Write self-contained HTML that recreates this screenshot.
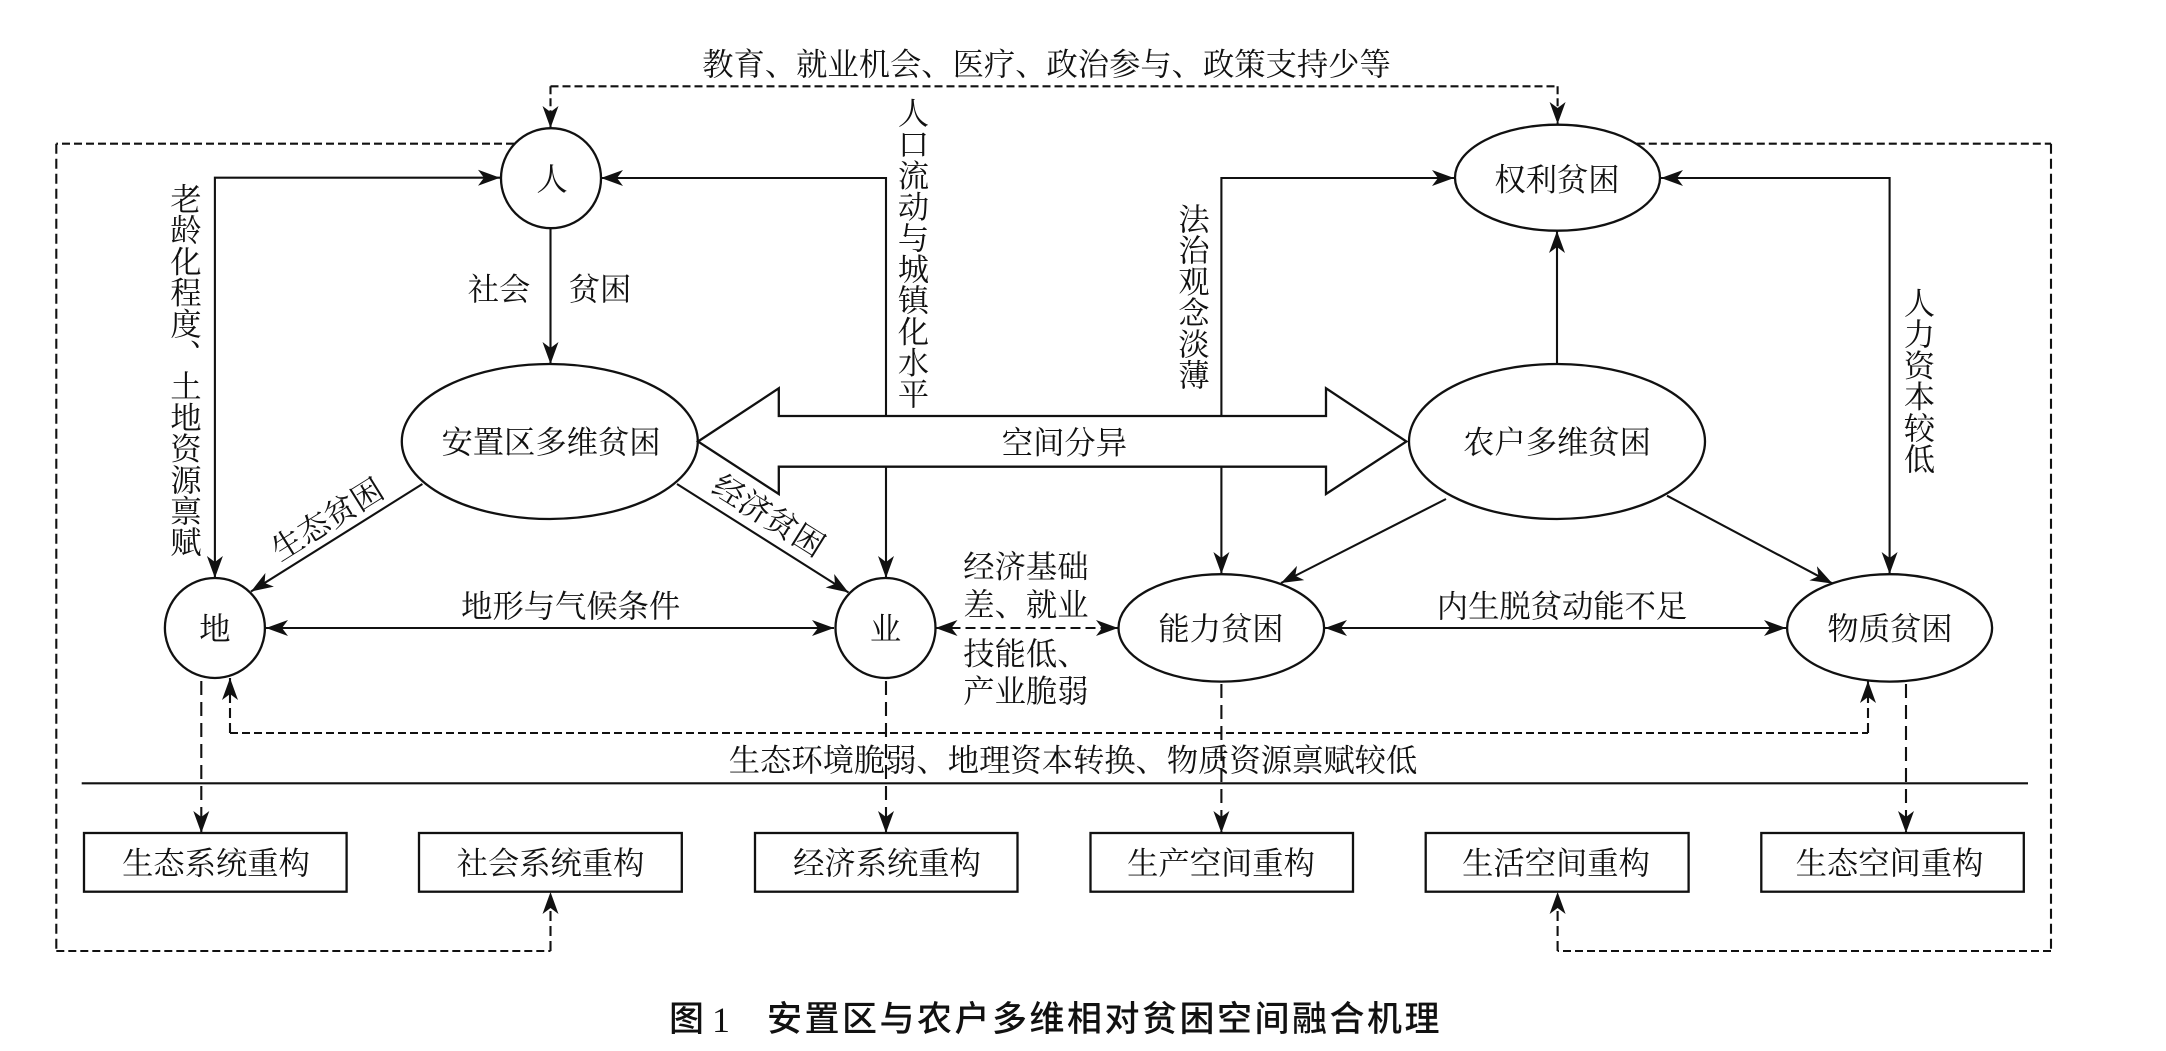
<!DOCTYPE html>
<html lang="zh"><head><meta charset="utf-8"><title>图1</title>
<style>
html,body{margin:0;padding:0;background:#fff}
body{width:2166px;height:1051px;overflow:hidden;position:relative}
svg{position:absolute;left:0;top:0}
text{font-family:"Liberation Serif","Noto Serif CJK SC",serif;font-size:31.3px;fill:#111;text-anchor:middle}
.v{position:absolute;width:31px;writing-mode:vertical-rl;text-orientation:upright;font-family:"Liberation Serif","Noto Serif CJK SC",serif;font-size:31.2px;line-height:31px;color:#111;white-space:nowrap}
</style></head><body>
<svg width="2166" height="1051" viewBox="0 0 2166 1051" xmlns="http://www.w3.org/2000/svg">
<defs>
<marker id="a" viewBox="-23 -9 24 18" refX="0" refY="0" markerWidth="24" markerHeight="18" markerUnits="userSpaceOnUse" orient="auto-start-reverse"><path d="M0,0 L-22,-8 L-16,0 L-22,8 Z" fill="#111"/></marker>
</defs>
<g fill="none" stroke="#111" stroke-width="2.1">
<path d="M214.9,578 V177.7 H500" marker-start="url(#a)" marker-end="url(#a)"/>
<path d="M886,416 V178 H601" marker-end="url(#a)"/>
<path d="M886,467 V578" marker-end="url(#a)"/>
<path d="M1221.4,416 V178 H1454" marker-end="url(#a)"/>
<path d="M1221.4,467 V574" marker-end="url(#a)"/>
<path d="M1889.6,574 V178 H1661" marker-end="url(#a)" marker-start="url(#a)"/>
<path d="M550.5,228 V364" marker-end="url(#a)"/>
<path d="M1557,364 V231" marker-end="url(#a)"/>
<path d="M422.4,484 L251,591.5" marker-end="url(#a)"/>
<path d="M677,484 L848.5,592.5" marker-end="url(#a)"/>
<path d="M1446,499 L1281,583" marker-end="url(#a)"/>
<path d="M1667,495.7 L1832.6,583.6" marker-end="url(#a)"/>
<path d="M266,628 H834" marker-start="url(#a)" marker-end="url(#a)"/>
<path d="M1325,628 H1786" marker-start="url(#a)" marker-end="url(#a)"/>
<path d="M81.7,783.3 H2028"/>
</g>
<g fill="none" stroke="#111" stroke-width="2.1">
<path d="M550.5,86.3 H1557.6" stroke-dasharray="8 4"/>
<path d="M550.5,86.3 V128" stroke-dasharray="8 4" marker-end="url(#a)"/>
<path d="M1557.6,86.3 V124" stroke-dasharray="8 4" marker-end="url(#a)"/>
<path d="M514,143.7 H56.3" stroke-dasharray="8 4"/>
<path d="M56.3,143.7 V951" stroke-dasharray="10 5"/>
<path d="M56.3,951 H550.5" stroke-dasharray="8 4"/>
<path d="M550.5,951 V892" stroke-dasharray="10 5" marker-end="url(#a)"/>
<path d="M1636.8,143.7 H2051" stroke-dasharray="8 4"/>
<path d="M2051,143.7 V951" stroke-dasharray="10 5"/>
<path d="M2051,951 H1557.6" stroke-dasharray="8 4"/>
<path d="M1557.6,951 V892" stroke-dasharray="10 5" marker-end="url(#a)"/>
<path d="M230,733 H1868" stroke-dasharray="8 4"/>
<path d="M230,733 V678" stroke-dasharray="10 5" marker-end="url(#a)"/>
<path d="M1868,733 V681" stroke-dasharray="10 5" marker-end="url(#a)"/>
<path d="M201.3,681 V833" stroke-dasharray="14 7" marker-end="url(#a)"/>
<path d="M886,681 V833" stroke-dasharray="14 7" marker-end="url(#a)"/>
<path d="M1221.4,684 V833" stroke-dasharray="14 7" marker-end="url(#a)"/>
<path d="M1906,684 V833" stroke-dasharray="14 7" marker-end="url(#a)"/>
<path d="M935.5,628 H1118" stroke-dasharray="10 5" marker-start="url(#a)" marker-end="url(#a)"/>
</g>
<g fill="#fff" stroke="#111" stroke-width="2.3">
<ellipse cx="551" cy="178.2" rx="50" ry="50"/>
<ellipse cx="1557.5" cy="177.7" rx="102.5" ry="53"/>
<ellipse cx="549.8" cy="441.5" rx="148" ry="77.5"/>
<ellipse cx="1557" cy="441.5" rx="148" ry="77.5"/>
<ellipse cx="214.9" cy="628" rx="50" ry="50"/>
<ellipse cx="885.5" cy="628" rx="50" ry="50"/>
<ellipse cx="1221.3" cy="627.9" rx="102.8" ry="53.7"/>
<ellipse cx="1889.6" cy="627.9" rx="102.5" ry="53.7"/>
<path d="M698,441.5 L778.8,388.3 V416 H1326 V388.3 L1406.4,441.5 L1326,494 V466.7 H778.8 V494 Z"/>
<rect x="84" y="833" width="262.6" height="58.7"/>
<rect x="419" y="833" width="262.8" height="58.7"/>
<rect x="755" y="833" width="262.5" height="58.7"/>
<rect x="1090.5" y="833" width="262.5" height="58.7"/>
<rect x="1425.7" y="833" width="262.9" height="58.7"/>
<rect x="1761.3" y="833" width="262.5" height="58.7"/>
</g>
<text x="1046.5" y="75">教育、就业机会、医疗、政治参与、政策支持少等</text>
<text x="552" y="190">人</text>
<text x="1557" y="190.5">权利贫困</text>
<text x="499" y="300">社会</text>
<text x="600" y="300">贫困</text>
<text x="551" y="453">安置区多维贫困</text>
<text x="1064.4" y="453.5">空间分异</text>
<text x="1557" y="453">农户多维贫困</text>
<text x="214.9" y="639.5">地</text>
<text x="885.5" y="639.5">业</text>
<text x="1221" y="639.5">能力贫困</text>
<text x="1890" y="639.5">物质贫困</text>
<text x="570.7" y="617">地形与气候条件</text>
<text x="1562" y="617">内生脱贫动能不足</text>
<text x="963.3" y="577.5" style="text-anchor:start">经济基础</text>
<text x="963.3" y="615.5" style="text-anchor:start">差、就业</text>
<text x="963.3" y="664.5" style="text-anchor:start">技能低、</text>
<text x="963.3" y="702" style="text-anchor:start">产业脆弱</text>
<text x="1073" y="771">生态环境脆弱、地理资本转换、物质资源禀赋较低</text>
<text x="216" y="874">生态系统重构</text>
<text x="550.5" y="874">社会系统重构</text>
<text x="887" y="874">经济系统重构</text>
<text x="1221" y="874">生产空间重构</text>
<text x="1556" y="874">生活空间重构</text>
<text x="1889.5" y="874">生态空间重构</text>
<text transform="translate(327,519) rotate(-32)" x="0" y="11.5">生态贫困</text>
<text transform="translate(769,515) rotate(32)" x="0" y="11.5">经济贫困</text>
<text x="669" y="1031" style="text-anchor:start;font-family:'Liberation Sans','Noto Sans CJK SC',sans-serif;font-size:35px;font-weight:500">图</text>
<text x="712" y="1032" style="text-anchor:start;font-size:36px;font-family:'Liberation Serif',serif">1</text>
<text x="767" y="1031" style="text-anchor:start;font-family:'Liberation Sans','Noto Sans CJK SC',sans-serif;font-size:35px;font-weight:500;letter-spacing:2.5px">安置区与农户多维相对贫困空间融合机理</text>
</svg>
<div class="v" style="left:167.5px;top:183px">老龄化程度、土地资源禀赋</div>
<div class="v" style="left:895px;top:97px">人口流动与城镇化水平</div>
<div class="v" style="left:1175.5px;top:202.5px">法治观念淡薄</div>
<div class="v" style="left:1901px;top:286.5px">人力资本较低</div>
</body></html>
